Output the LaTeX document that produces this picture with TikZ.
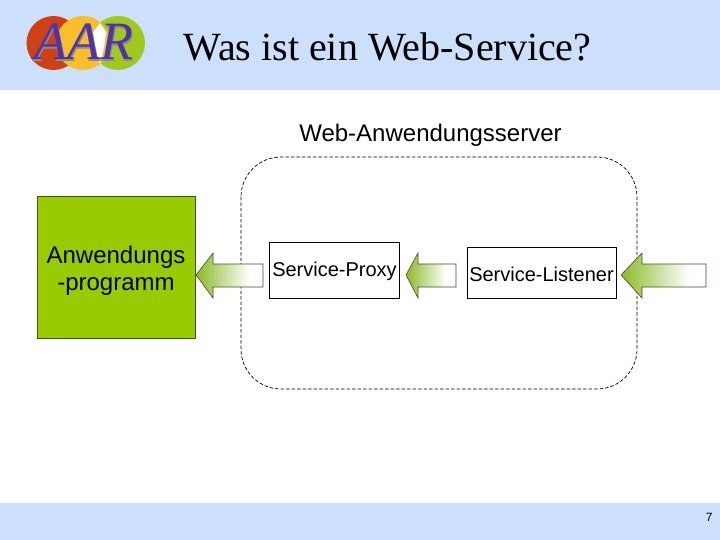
\documentclass[tikz,border=0pt]{standalone}
\usepackage{fontspec}
\setmainfont{Liberation Sans}
\newfontfamily\serifface{Liberation Serif}
\definecolor{bandblue}{RGB}{204,224,251}
\definecolor{boxgreen}{RGB}{153,204,0}
\definecolor{arrowgreen}{RGB}{140,185,40}
\definecolor{arrowline}{RGB}{60,85,35}
\definecolor{logored}{RGB}{205,65,20}
\definecolor{logoyellow}{RGB}{250,190,40}
\definecolor{logogreen}{RGB}{160,200,30}
\definecolor{logoviolet}{RGB}{80,50,170}
\pgfdeclarehorizontalshading{arrowfade}{100bp}{color(0bp)=(arrowgreen); color(25bp)=(arrowgreen); color(65bp)=(white); color(100bp)=(white)}
\tikzset{
  band/.style={fill=bandblue,draw=none},
  labelbox/.style={draw=black,fill=white,line width=0.7pt,inner sep=0pt,anchor=north west,align=center},
  fadearrow/.style={draw=arrowline,line width=0.6pt,shading=arrowfade},
}
\newcommand{\fadearrowshape}[3]{% tip x, head base x, tail x
  \path[fadearrow] (#1,275) -- (#2,253) -- (#2,264) -- (#3,264) -- (#3,287) -- (#2,287) -- (#2,298) -- cycle;}
\begin{document}
\begin{tikzpicture}[x=1pt,y=-1pt]
\useasboundingbox (0,0) rectangle (720,540);
\fill[white] (0,0) rectangle (720,540);
\fill[band] (0,0) rectangle (720,90);
\fill[band] (0,503) rectangle (720,540);
% logo
\fill[logored] (53.5,43) circle (27);
\fill[logogreen] (118,43) circle (27);
\fill[logoyellow] (83,43) circle (27);
\fill[white] (100,23) -- (106,32) -- (104,48) -- (100,64) -- (95,48) -- (93,32) -- cycle;
\node (logoshadow) at (85,43.5) {\serifface\itshape\fontsize{54}{54}\selectfont\color{black!45}AAR};
\node (logotext) at (83.5,42) {\serifface\itshape\fontsize{54}{54}\selectfont\color{logoviolet}AAR};
\node (title) at (387.5,47) {\serifface\fontsize{40}{44}\selectfont Was ist ein Web-Service?};
\node (server) at (430.5,135.5) {\fontsize{24}{28}\selectfont Web-Anwendungsserver};
\draw[line width=0.7pt,dash pattern=on 3.5pt off 2pt,rounded corners=40pt] (241,157) rectangle (637,389);
\node[labelbox,fill=boxgreen,draw=arrowline,minimum width=158pt,minimum height=142pt] (app) at (37,196) {};
\node[align=center,font=\fontsize{24}{27}\selectfont] (apptext) at (116,271) {Anwendungs\\-programm};
\node[labelbox,minimum width=130pt,minimum height=56.5pt] (proxy) at (269,241.5) {};
\node (proxytext) at (334.5,271) {\fontsize{20}{24}\selectfont Service-Proxy};
\node[labelbox,minimum width=149pt,minimum height=51pt] (listener) at (467,247) {};
\node (listenertext) at (541.5,274) {\fontsize{20}{24}\selectfont Service-Listener};
\fadearrowshape{196}{213}{263}
\fadearrowshape{406}{418}{456}
\fadearrowshape{621}{642}{706}
\node[anchor=east] (page) at (716,517) {\fontsize{12}{14}\selectfont 7};
\end{tikzpicture}
\end{document}
